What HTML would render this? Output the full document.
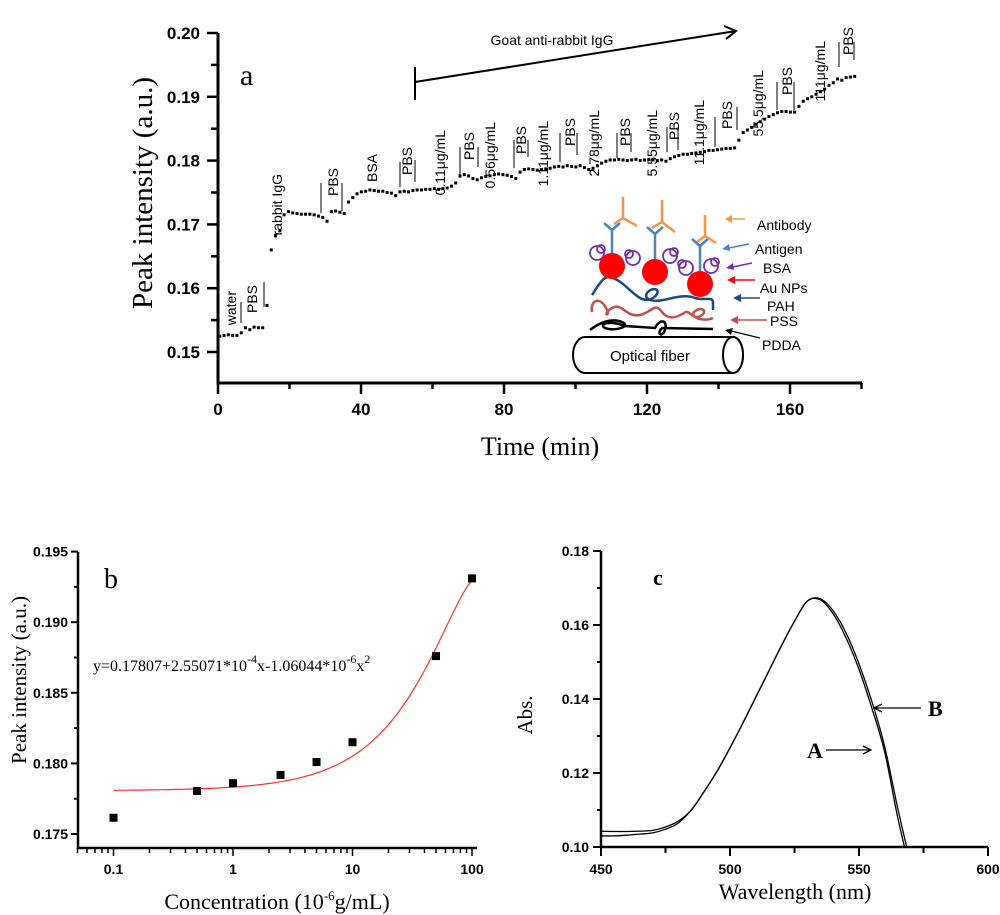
<!DOCTYPE html>
<html><head><meta charset="utf-8"><style>
html,body{margin:0;padding:0;background:#fff;}
svg{display:block;}
.tk{font-family:"Liberation Sans",sans-serif;font-weight:bold;}
.tm{font-family:"Liberation Serif",serif;}
.an{font-family:"Liberation Sans","DejaVu Sans",sans-serif;font-size:14px;}
</style></head><body>
<svg id="fig" width="1000" height="915" viewBox="0 0 1000 915" xmlns="http://www.w3.org/2000/svg">
<defs><clipPath id="cclip"><rect x="601" y="540" width="390" height="307"/></clipPath></defs>
<g id="pa"></g>
<g id="pb"></g>
<g id="pc"></g>
<g id="inset">
  <g>
    <path d="M585,337 L733,337 A10,18 0 0 1 733,373 L585,373 A12,18 0 0 1 585,337 Z" fill="#fff" stroke="#000" stroke-width="2"/>
    <ellipse cx="733" cy="355" rx="10" ry="18" fill="#fff" stroke="#000" stroke-width="2"/>
    <text x="650" y="361" text-anchor="middle" class="an" style="font-size:15px">Optical fiber</text>
  </g>
  <path d="M590,330 C600,322 612,318 622,322 C632,326 615,332 605,328 C598,324 610,320 625,326 L655,328 C660,318 668,320 665,330 C662,338 656,334 662,328 L713,329" fill="none" stroke="#000" stroke-width="2.5"/>
  <path d="M592,312 C590,300 600,296 606,308 C612,318 600,315 612,308 C622,302 626,318 640,315 C652,312 655,302 662,312 C668,320 676,318 684,313 C690,308 692,322 702,315 C708,310 700,306 694,312 C690,318 705,322 713,318" fill="none" stroke="#c0504d" stroke-width="2.5"/>
  <path d="M592,295 C598,286 603,276 610,277 C622,280 630,292 640,298 C650,304 660,294 657,290 C652,286 640,296 650,300 C662,304 680,292 695,298 C705,301 712,296 713,302 L713,310" fill="none" stroke="#1f497d" stroke-width="2.5"/>
  <g fill="none" stroke="#7030a0" stroke-width="1.8">
    <circle cx="597" cy="253" r="7"/><circle cx="601" cy="249" r="4"/>
    <circle cx="633" cy="258" r="7"/><circle cx="629" cy="254" r="4"/>
    <circle cx="670" cy="256" r="7"/><circle cx="674" cy="252" r="4"/>
    <circle cx="686" cy="268" r="7"/><circle cx="682" cy="264" r="4"/>
    <circle cx="711" cy="266" r="7"/><circle cx="715" cy="262" r="4"/>
  </g>
  <g fill="#f00">
    <circle cx="612" cy="266" r="13"/><circle cx="655" cy="272" r="13"/><circle cx="700" cy="284" r="13"/>
  </g>
  <g fill="none" stroke="#4f81bd" stroke-width="2.5">
    <path d="M612,253 L612,230 L604,223 M612,230 L620,223"/>
    <path d="M655,259 L655,234 L647,227 M655,234 L663,227"/>
    <path d="M700,271 L700,246 L692,239 M700,246 L708,239"/>
  </g>
  <g fill="none" stroke="#f79646" stroke-width="2.5">
    <path d="M623,197 L623,218 L614,224 M623,218 L637,226"/>
    <path d="M662,200 L662,222 L652,228 M662,222 L675,232"/>
    <path d="M705,215 L705,236 L697,242 M705,236 L716,243"/>
  </g>
  <g class="an">
    <line x1="745" y1="219" x2="727" y2="219" stroke="#f79646" stroke-width="1.5"/><path d="M725,219 l7,-4 v8z" fill="#f79646"/>
    <text x="757" y="230">Antibody</text>
    <line x1="749" y1="244" x2="724" y2="249" stroke="#4f81bd" stroke-width="1.5"/><path d="M722,249 l7,-5 l1,7z" fill="#4f81bd"/>
    <text x="755" y="254">Antigen</text>
    <line x1="752" y1="263" x2="728" y2="268" stroke="#7030a0" stroke-width="1.5"/><path d="M726,268 l7,-5 l1,7z" fill="#7030a0"/>
    <text x="763" y="273">BSA</text>
    <line x1="755" y1="280" x2="729" y2="280" stroke="#f00" stroke-width="1.5"/><path d="M727,280 l8,-4 v8z" fill="#f00"/>
    <text x="760" y="293">Au NPs</text>
    <line x1="760" y1="298" x2="735" y2="298" stroke="#1f497d" stroke-width="1.5"/><path d="M733,298 l8,-4 v8z" fill="#1f497d"/>
    <text x="767" y="311">PAH</text>
    <line x1="767" y1="320" x2="732" y2="320" stroke="#c0504d" stroke-width="1.5"/><path d="M730,320 l8,-4 v8z" fill="#c0504d"/>
    <text x="770" y="326">PSS</text>
    <line x1="760" y1="338" x2="727" y2="330" stroke="#000" stroke-width="1.2"/><path d="M725,330 l8,-2 l-2,7z" fill="#000"/>
    <text x="762" y="350">PDDA</text>
  </g>
</g>
</svg>
<script>
// ---------- Panel A data ----------
const aStart = 0.5, aStep = 1.2;
const aValues = [0.1525,0.1526,0.1527,0.1526,0.1526,0.1530,0.1538,0.1535,0.1539,0.1538,0.1538,0.1573,0.1660,0.1682,0.1690,
0.1715,0.1720,0.1718,0.1717,0.1716,0.1716,0.1716,0.1715,0.1713,0.1711,0.1705,0.1720,0.1721,0.1719,0.1717,
0.1735,0.1742,0.1748,0.1751,0.1752,0.1754,0.1753,0.1752,0.1752,0.1750,0.1749,0.1745,
0.1751,0.1752,0.1751,0.1753,0.1754,0.1754,0.1755,0.1755,0.1756,0.1755,0.1756,0.1757,0.1760,0.1765,
0.1776,0.1778,0.1776,0.1772,0.1770,0.1773,0.1775,0.1776,0.1778,0.1779,0.1778,0.1777,0.1775,0.1772,
0.1782,0.1786,0.1787,0.1786,0.1785,0.1786,0.1787,0.1788,0.1790,0.1791,0.1790,0.1792,0.1791,0.1790,0.1792,0.1789,0.1786,
0.1788,0.1792,0.1796,0.1799,0.1801,0.1801,0.1802,0.1801,0.1800,0.1801,0.1802,0.1800,0.1801,0.1802,0.1801,0.1800,0.1801,
0.1799,0.1803,0.1806,0.1808,0.1810,0.1810,0.1811,0.1812,0.1813,0.1814,0.1816,0.1816,0.1817,0.1818,0.1819,0.1819,0.1820,0.1832,
0.1844,0.1848,0.1852,0.1857,0.1861,0.1865,0.1869,0.1872,0.1875,0.1877,0.1877,0.1876,0.1876,0.1885,
0.1893,0.1897,0.1900,0.1904,0.1908,0.1912,0.1918,0.1922,0.1928,0.1926,0.1930,0.1931,0.1932];
const aXTicks = [0,40,80,120,160];
const aYTicks = [0.15,0.16,0.17,0.18,0.19,0.20];
const aLabels = [["water",231,291],["PBS",252,285],["rabbit IgG",277,174],["PBS",333,168],["BSA",372,154],["PBS",407,147],
["0.11μg/mL",440,130],["PBS",469,132],["0.56μg/mL",490,122],["PBS",521,126],["1.11μg/mL",543,121],["PBS",570,118],
["2.78μg/mL",594,110],["PBS",625,118],["5.55μg/mL",652,110],["PBS",674,112],["11.1μg/mL",699,100],["PBS",727,101],
["55.5μg/mL",758,70],["PBS",787,67],["111μg/mL",820,41],["PBS",848,27]];
const aBrackets = [[241,302,323],[264,282,307],[321,183,213],[342,183,211],[400,162,187],[415,160,182],[460,147,178],[478,147,167],
[514,140,168],[528,140,157],[560,133,162],[577,133,155],[617,133,158],[631,133,152],[667,127,152],[678,127,150],
[715,117,147],[737,107,130],[777,82,110],[794,82,110],[839,42,67],[854,42,60]];

// ---------- Panel B data ----------
const bConc = [0.1,0.5,1,2.5,5,10,50,100];
const bPeak = [0.17615,0.17805,0.1786,0.17918,0.1801,0.1815,0.1876,0.1931];
const bYTicks = [0.175,0.180,0.185,0.190,0.195];
const bXTicks = [0.1,1,10,100];
const bFit = [0.17807,2.55071e-4,-1.06044e-6];

// ---------- Panel C data ----------
const cWave = [450,455,460,465,470,475,480,485,490,495,500,505,510,515,520,525,530,535,540,545,550,555,560,565,570];
const cAbsA = [0.1030,0.1030,0.1032,0.1035,0.1038,0.1048,0.1065,0.1100,0.1150,0.1205,0.1268,0.1335,0.1405,0.1475,0.1545,0.1610,0.1665,0.1668,0.1630,0.1565,0.1480,0.1375,0.1255,0.1080,0.0930];
const cAbsB = [0.1043,0.1042,0.1042,0.1043,0.1045,0.1054,0.1070,0.1100,0.1150,0.1205,0.1268,0.1335,0.1405,0.1475,0.1545,0.1610,0.1665,0.1671,0.1638,0.1578,0.1495,0.1393,0.1270,0.1105,0.0955];
const cXTicks = [450,500,550,600];
const cYTicks = [0.10,0.12,0.14,0.16,0.18];

const NS = "http://www.w3.org/2000/svg";
function mk(parent, tag, attrs, text){
  const e = document.createElementNS(NS, tag);
  for (const k in attrs) e.setAttribute(k, attrs[k]);
  if (text !== undefined) e.textContent = text;
  parent.appendChild(e);
  return e;
}
function tsp(parent, text, dy, size){
  const t = document.createElementNS(NS, 'tspan');
  if (dy) t.setAttribute('dy', dy);
  if (size) t.setAttribute('font-size', size);
  t.textContent = text;
  parent.appendChild(t);
}

// ===== Panel A =====
(function(){
  const g = document.getElementById('pa');
  const X = t => 218 + t * 3.575;
  const Y = v => 352 - (v - 0.15) * 6380;
  const ax = mk(g,'path',{d:'M218,33 L218,383 L862,383',fill:'none',stroke:'#000','stroke-width':3});
  
  
  for (let t=0;t<=180;t+=20){
    const major = t%40===0;
    const tk = mk(g,'line',{x1:X(t),x2:X(t),y1:383,y2:major?394:389,stroke:'#000','stroke-width':2.5});
    
    
  }
  aXTicks.forEach(t=>{
    const l = mk(g,'text',{x:X(t),y:415,'text-anchor':'middle',class:'tk','font-size':17},String(t));
    
    
  });
  for (let k=0; k<=10; k++){
    const v = 0.15 + k*0.005;
    const major = k%2===0;
    const tk = mk(g,'line',{x1:major?207:211,x2:218,y1:Y(v),y2:Y(v),stroke:'#000','stroke-width':2.5});
    
    
  }
  aYTicks.forEach(v=>{
    const l = mk(g,'text',{x:200,y:Y(v)+6,'text-anchor':'end',class:'tk','font-size':17},v.toFixed(2));
    
    
  });
  const yt = mk(g,'text',{x:0,y:0,transform:'translate(152,193) rotate(-90)','text-anchor':'middle',class:'tm','font-size':29},'Peak intensity (a.u.)');
  
  
  const xt = mk(g,'text',{x:540,y:455,'text-anchor':'middle',class:'tm','font-size':26},'Time (min)');
  
  
  const pl = mk(g,'text',{x:240,y:85,class:'tm','font-size':30},'a');
  
  
  aValues.forEach((v,i)=>{
    const t = aStart + i*aStep;
    const r = mk(g,'rect',{x:X(t)-1.5,y:Y(v)-1.5,width:3,height:3,fill:'#000'});
    
    
  });
  aLabels.forEach(([txt,x,yTop])=>{
    const l = mk(g,'text',{x:0,y:0,transform:'translate('+(x+5)+','+yTop+') rotate(-90)','text-anchor':'end',class:'an','font-size':14},txt);
    
    
  });
  aBrackets.forEach(([x,y1,y2])=>{
    const l = mk(g,'line',{x1:x,x2:x,y1:y1,y2:y2,stroke:'#000','stroke-width':1});
    
    
  });
  const gb = mk(g,'line',{x1:415,x2:415,y1:67,y2:100,stroke:'#000','stroke-width':2});
  
  
  const ga = mk(g,'path',{d:'M415,82 L736,31 M724,26 L736,31 L726,39',fill:'none',stroke:'#000','stroke-width':2});
  
  
  const gt = mk(g,'text',{x:552,y:45,'text-anchor':'middle',class:'an','font-size':17},'Goat anti-rabbit IgG');
  
  
})();

// ===== Panel B =====
(function(){
  const g = document.getElementById('pb');
  const X = c => 233 + Math.log10(c) * 119.5;
  const Y = v => 834 - (v - 0.175) * 14120;
  const ax = mk(g,'path',{d:'M78,552 L78,848 L477,848',fill:'none',stroke:'#000','stroke-width':2.5});
  
  
  for (let k=0; k<=8; k++){
    const v = 0.175 + k*0.0025;
    const major = k%2===0;
    const tk = mk(g,'line',{x1:major?71:74,x2:78,y1:Y(v),y2:Y(v),stroke:'#000','stroke-width':2});
    
    
  }
  bYTicks.forEach(v=>{
    const l = mk(g,'text',{x:68,y:Y(v)+5,'text-anchor':'end',class:'tk','font-size':14},v.toFixed(3));
    
    
  });
  for (let d=-2; d<=2; d++){
    for (let m=1; m<=9; m++){
      const c = m*Math.pow(10,d);
      if (c<0.05 || c>110) continue;
      const tk = mk(g,'line',{x1:X(c),x2:X(c),y1:848,y2:m===1?856:853,stroke:'#000','stroke-width':1.5});
      
      
    }
  }
  bXTicks.forEach(c=>{
    const l = mk(g,'text',{x:X(c),y:874,'text-anchor':'middle',class:'tk','font-size':14},String(c));
    
    
  });
  const yt = mk(g,'text',{x:0,y:0,transform:'translate(26,680) rotate(-90)','text-anchor':'middle',class:'tm','font-size':21},'Peak intensity (a.u.)');
  
  
  const xt = mk(g,'text',{x:277,y:909,'text-anchor':'middle',class:'tm','font-size':22});
  
  
  tsp(xt,'Concentration (10');
  tsp(xt,'-6','-9',13);
  tsp(xt,'g/mL)','9');
  const pl = mk(g,'text',{x:104,y:588,class:'tm','font-size':28},'b');
  
  
  const eq = mk(g,'text',{x:93,y:671,class:'tm','font-size':16});
  
  
  tsp(eq,'y=0.17807+2.55071*10');
  tsp(eq,'-4','-8',12);
  tsp(eq,'x-1.06044*10','8');
  tsp(eq,'-6','-8',12);
  tsp(eq,'x','8');
  tsp(eq,'2','-8',12);
  let d = '';
  for (let i=0;i<=120;i++){
    const lc = -1 + 3*i/120;
    const c = Math.pow(10,lc);
    const v = bFit[0] + bFit[1]*c + bFit[2]*c*c;
    d += (i?'L':'M') + X(c).toFixed(1) + ',' + Y(v).toFixed(1);
  }
  const fit = mk(g,'path',{d:d,fill:'none',stroke:'#ff3030','stroke-width':1.2});
  
  
  bConc.forEach((c,i)=>{
    const r = mk(g,'rect',{x:X(c)-4,y:Y(bPeak[i])-4,width:8,height:8,fill:'#000'});
    
    
  });
})();

// ===== Panel C =====
(function(){
  const g = document.getElementById('pc');
  const X = w => 601 + (w - 450) * 2.58;
  const Y = v => 847 - (v - 0.10) * 3700;
  const ax = mk(g,'path',{d:'M601,551 L601,847 L988,847',fill:'none',stroke:'#000','stroke-width':2.5});
  
  
  for (let k=0; k<=8; k++){
    const v = 0.10 + k*0.01;
    const major = k%2===0;
    const tk = mk(g,'line',{x1:major?593:597,x2:601,y1:Y(v),y2:Y(v),stroke:'#000','stroke-width':2});
    
    
  }
  cYTicks.forEach(v=>{
    const l = mk(g,'text',{x:589,y:Y(v)+5,'text-anchor':'end',class:'tk','font-size':14},v.toFixed(2));
    
    
  });
  for (let w=450; w<=600; w+=25){
    const major = w%50===0;
    const tk = mk(g,'line',{x1:X(w),x2:X(w),y1:847,y2:major?856:853,stroke:'#000','stroke-width':2});
    
    
  }
  cXTicks.forEach(w=>{
    const l = mk(g,'text',{x:X(w),y:874,'text-anchor':'middle',class:'tk','font-size':14},String(w));
    
    
  });
  const yt = mk(g,'text',{x:0,y:0,transform:'translate(532,715) rotate(-90)','text-anchor':'middle',class:'tm','font-size':21},'Abs.');
  
  
  const xt = mk(g,'text',{x:795,y:899,'text-anchor':'middle',class:'tm','font-size':22},'Wavelength (nm)');
  
  
  const pl = mk(g,'text',{x:653,y:585,class:'tm','font-size':22,'font-weight':'bold'},'c');
  
  
  function smooth(xs, ys){
    const p = xs.map((w,i)=>[X(w),Y(ys[i])]);
    let d = 'M'+p[0][0]+','+p[0][1];
    for (let i=0;i<p.length-1;i++){
      const p0=p[Math.max(0,i-1)], p1=p[i], p2=p[i+1], p3=p[Math.min(p.length-1,i+2)];
      const c1=[p1[0]+(p2[0]-p0[0])/6, p1[1]+(p2[1]-p0[1])/6];
      const c2=[p2[0]-(p3[0]-p1[0])/6, p2[1]-(p3[1]-p1[1])/6];
      d += 'C'+c1[0].toFixed(1)+','+c1[1].toFixed(1)+' '+c2[0].toFixed(1)+','+c2[1].toFixed(1)+' '+p2[0].toFixed(1)+','+p2[1].toFixed(1);
    }
    return d;
  }
  const la = mk(g,'path',{d:smooth(cWave,cAbsA),fill:'none',stroke:'#000','stroke-width':1.3,'clip-path':'url(#cclip)'});
  
  
  const lb = mk(g,'path',{d:smooth(cWave,cAbsB),fill:'none',stroke:'#000','stroke-width':1.3,'clip-path':'url(#cclip)'});
  
  
  const arB = mk(g,'path',{d:'M921,708 L874,708 M882,704 L874,708 L882,712',fill:'none',stroke:'#000','stroke-width':1.3});
  
  
  const tB = mk(g,'text',{x:928,y:716,class:'tm','font-size':22,'font-weight':'bold'},'B');
  
  
  const arA = mk(g,'path',{d:'M826,750 L871,750 M863,746 L871,750 L863,754',fill:'none',stroke:'#000','stroke-width':1.3});
  
  
  const tA = mk(g,'text',{x:807,y:758,class:'tm','font-size':22,'font-weight':'bold'},'A');
  
  
})();
</script>
</body></html>
